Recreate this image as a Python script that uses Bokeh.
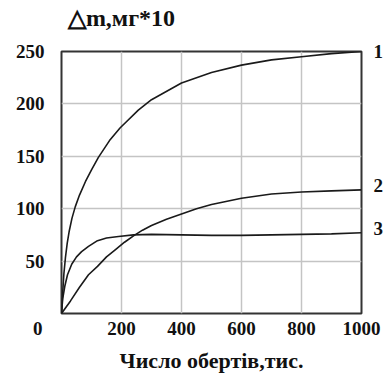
from bokeh.plotting import figure
from bokeh.models import FixedTicker, LinearAxis, Range1d
from bokeh.embed import file_html
from bokeh.resources import INLINE

# Data
c1_x = [0, 4, 8, 13, 19, 26, 35, 46, 60, 80, 100, 123, 160, 195, 256, 300, 400, 500, 600, 700, 800, 900, 1000]
c1_y = [0, 20, 38, 53, 67, 79, 91, 102, 113, 126, 137, 149, 165, 177, 194, 204, 220, 230, 237, 242, 245, 248, 250]

c2_x = [0, 30, 60, 90, 120, 150, 180, 210, 240, 270, 300, 350, 400, 450, 500, 600, 700, 800, 900, 1000]
c2_y = [0, 12, 25, 37, 45, 54, 61, 68, 74, 79.5, 84, 90, 95, 100, 104, 110, 114, 116, 117, 118]

c3_x = [0, 4, 11, 20, 34, 50, 67, 90, 120, 150, 190, 240, 300, 400, 500, 600, 700, 800, 900, 1000]
c3_y = [0, 14, 26, 37, 47, 54, 59, 64, 69.5, 72, 73.5, 75, 75.5, 75, 74.5, 74.5, 75, 75.5, 76, 77]

x_ticks = [0, 200, 400, 600, 800, 1000]
y_ticks = [50, 100, 150, 200, 250]
curve_labels = ["1", "2", "3"]
curve_label_pos = [250, 122, 81]
title_text = "△m,мг*10"
xlabel_text = "Число обертів,тис."

FONT = "Liberation Serif"
TXT = "#111111"
NBSP = "\u00a0"

p = figure(frame_width=300, frame_height=262, x_range=(0, 1000), y_range=(0, 250),
           output_backend="svg", toolbar_location=None, title=None,
           min_border_left=61, min_border_right=29, min_border_top=51, min_border_bottom=61)
p.background_fill_color = "white"
p.border_fill_color = "white"
p.outline_line_color = "#333333"
p.outline_line_width = 2

left_axis = p.yaxis[0]
bottom_axis = p.xaxis[0]
left_axis.ticker = FixedTicker(ticks=y_ticks)
bottom_axis.ticker = FixedTicker(ticks=x_ticks)

# curve numbers on the right
p.extra_y_ranges = {"lab": Range1d(0, 250)}
right_axis = LinearAxis(y_range_name="lab", ticker=FixedTicker(ticks=curve_label_pos),
                        major_label_overrides={v: t for v, t in zip(curve_label_pos, curve_labels)})
p.add_layout(right_axis, "right")

# heading above the plot (as the label of a tick-less top axis)
top_axis = LinearAxis(ticker=FixedTicker(ticks=[]))
top_axis.axis_label = title_text + NBSP * 30
top_axis.axis_label_text_font = FONT
top_axis.axis_label_text_font_style = "bold"
top_axis.axis_label_text_font_size = "24px"
top_axis.axis_label_text_color = TXT
top_axis.axis_label_standoff = 21
top_axis.major_label_standoff = 0
top_axis.major_tick_out = 0
top_axis.major_tick_in = 0
top_axis.axis_line_color = None
top_axis.major_tick_line_color = None
top_axis.minor_tick_line_color = None
p.add_layout(top_axis, "above")

for ax in (bottom_axis, left_axis, right_axis):
    ax.axis_line_color = None
    ax.major_tick_line_color = None
    ax.minor_tick_line_color = None
    ax.major_label_text_font = FONT
    ax.major_label_text_font_style = "bold"
    ax.major_label_text_font_size = "19px"
    ax.major_label_text_color = TXT
bottom_axis.major_label_overrides = {0: "0" + NBSP * 10}
bottom_axis.major_label_standoff = -2
left_axis.major_label_standoff = 11
right_axis.major_label_standoff = 6

bottom_axis.axis_label = xlabel_text
bottom_axis.axis_label_text_font = FONT
bottom_axis.axis_label_text_font_style = "bold"
bottom_axis.axis_label_text_font_size = "22px"
bottom_axis.axis_label_text_color = TXT
bottom_axis.axis_label_standoff = 6

p.xgrid.grid_line_color = "#c4c4c4"
p.ygrid.grid_line_color = "#c4c4c4"
p.xgrid.grid_line_width = 1.5
p.ygrid.grid_line_width = 1.5

for xs, ys in ((c1_x, c1_y), (c2_x, c2_y), (c3_x, c3_y)):
    p.line(xs, ys, line_color="#1a1a1a", line_width=1.6)

open("out.html", "w").write(file_html(p, INLINE))
